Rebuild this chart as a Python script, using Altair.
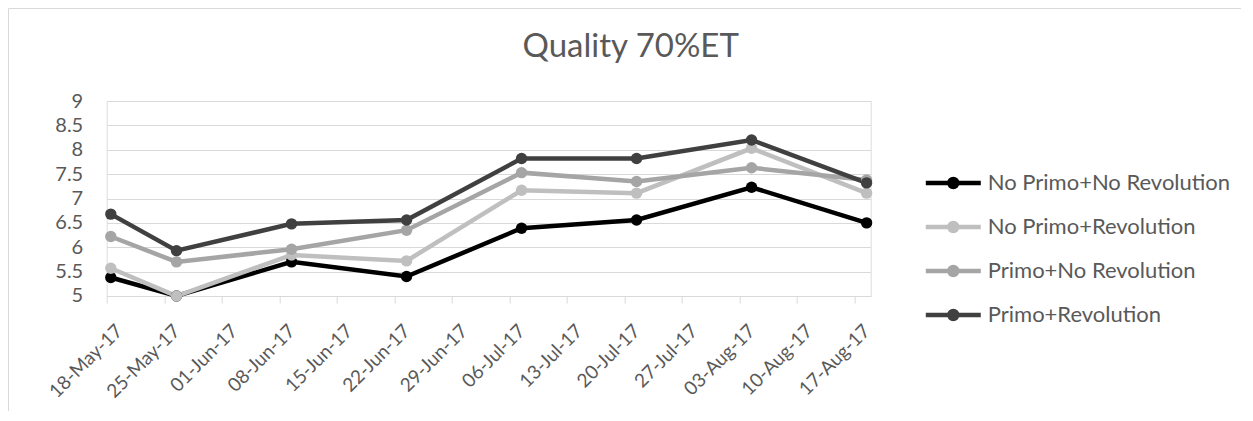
import altair as alt
import pandas as pd

# ---- data ----
dates = ["2017-05-18", "2017-05-26", "2017-06-09", "2017-06-23",
         "2017-07-07", "2017-07-21", "2017-08-04", "2017-08-18"]
series_names = ["No Primo+No Revolution", "No Primo+Revolution",
                "Primo+No Revolution", "Primo+Revolution"]
no_primo_no_rev = [5.38, 5.00, 5.70, 5.40, 6.39, 6.56, 7.23, 6.50]
no_primo_rev = [5.57, 5.00, 5.84, 5.72, 7.17, 7.11, 8.03, 7.11]
primo_no_rev = [6.22, 5.70, 5.96, 6.35, 7.53, 7.35, 7.63, 7.38]
primo_rev = [6.68, 5.93, 6.48, 6.56, 7.82, 7.82, 8.20, 7.32]
tick_dates = ["2017-05-18", "2017-05-25", "2017-06-01", "2017-06-08",
              "2017-06-15", "2017-06-22", "2017-06-29", "2017-07-06",
              "2017-07-13", "2017-07-20", "2017-07-27", "2017-08-03",
              "2017-08-10", "2017-08-17"]
x_domain = ["2017-05-18", "2017-08-19"]
y_ticks = [5, 5.5, 6, 6.5, 7, 7.5, 8, 8.5, 9]
colors = ["#000000", "#BFBFBF", "#A5A5A5", "#404040"]

series_values = [no_primo_no_rev, no_primo_rev, primo_no_rev, primo_rev]
rows = []
for name, vals in zip(series_names, series_values):
    for d, v in zip(dates, vals):
        rows.append({"series": name, "date": d, "value": v})
df = pd.DataFrame(rows)


def dt(s):
    y, m, d = (int(p) for p in s.split("-"))
    return alt.DateTime(year=y, month=m, date=d, utc=True)


FONT = "Lato"
GREY_TXT = "#595959"
GRID = "#D9D9D9"

legend_path = ("M-4,0 A4,4 0 1,0 4,0 A4,4 0 1,0 -4,0 Z "
               "M-1.5,0 A1.5,1.5 0 1,0 1.5,0 A1.5,1.5 0 1,0 -1.5,0 Z "
               "M-27.5,0 H27.5")

x_enc = alt.X(
    "t:T",
    scale=alt.Scale(type="utc", domain=[dt(s) for s in x_domain]),
    axis=alt.Axis(
        title=None, values=[dt(s) for s in tick_dates],
        labelExpr="utcFormat(datum.value, '%d-%b-%y')",
        labelAngle=-45, labelAlign="right",
        labelBaseline="top", labelFont=FONT, labelFontSize=19,
        labelColor=GREY_TXT, labelPadding=18, labelOffset=6,
        labelOverlap=False,
        labelFlush=False, labelBound=False, grid=False,
        domainColor=GRID, domainWidth=1, tickColor=GRID, tickSize=7,
        tickWidth=1,
    ),
)
y_enc = alt.Y(
    "value:Q",
    scale=alt.Scale(domain=[5, 9], nice=False, zero=False),
    axis=alt.Axis(
        title=None, values=y_ticks, format="~g", labelFont=FONT,
        labelFontSize=20, labelColor=GREY_TXT, labelPadding=24,
        domain=False, ticks=False, tickSize=0, grid=True,
        gridColor=GRID, gridWidth=1,
    ),
)
color_enc = alt.Color(
    "series:N",
    scale=alt.Scale(domain=series_names, range=colors),
    sort=series_names,
    legend=alt.Legend(
        title=None, orient="none", legendX=835.6, legendY=71,
        symbolType=legend_path, symbolSize=4, symbolStrokeWidth=4.5,
        labelOffset=23.5, labelFont=FONT, labelFontSize=22,
        labelColor=GREY_TXT, rowPadding=18, padding=0, labelLimit=400,
    ),
)

base = alt.Chart(df).transform_calculate(
    t="time(datum.date) + 43200000"
)

lines = base.mark_line(strokeWidth=4.5).encode(
    x=x_enc, y=y_enc, color=color_enc, order=alt.Order("t:Q")
)
points = base.mark_point(filled=True, size=130, opacity=1).encode(
    x=x_enc, y=y_enc, color=color_enc
)

frame = pd.DataFrame({"k": [0]})
border_top = alt.Chart(frame).mark_rule(color=GRID, strokeWidth=1).encode(
    x=alt.value(-98.2), x2=alt.value(1200), y=alt.value(-92.5)
)
border_left = alt.Chart(frame).mark_rule(color=GRID, strokeWidth=1).encode(
    x=alt.value(-98.2), y=alt.value(-92.5), y2=alt.value(330)
)

chart = alt.layer(border_top, border_left, lines, points).properties(
    width=764,
    height=195,
    autosize="none",
    padding={"left": 98.7, "top": 93, "right": 370, "bottom": 115},
    title=alt.TitleParams(
        text="Quality 70%ET", font=FONT, fontSize=33, fontWeight="normal",
        color=GREY_TXT, anchor="middle", dx=142, offset=-56,
    ),
).configure_view(stroke=None).configure(background="white")

chart.save("out.html", embed_options={"renderer": "svg", "actions": False})
